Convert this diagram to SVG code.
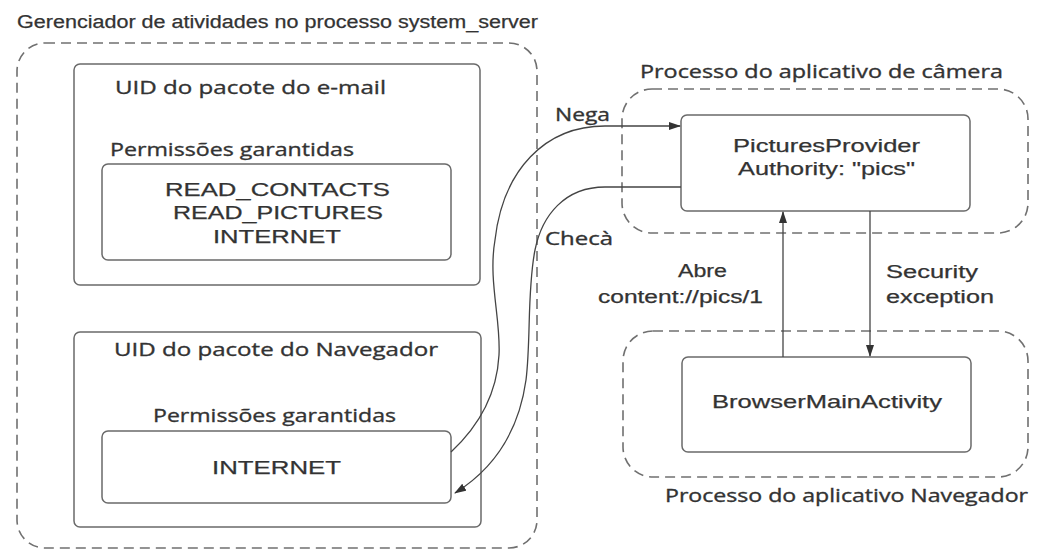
<svg xmlns="http://www.w3.org/2000/svg" width="1037" height="552" viewBox="0 0 1037 552">
  <defs>
    <marker id="arrow" viewBox="0 0 12 8" refX="11" refY="4" markerWidth="12" markerHeight="8" markerUnits="userSpaceOnUse" orient="auto">
      <path d="M0,0 L12,4 L0,8 Z" fill="#333"/>
    </marker>
    <style>
      .proc { fill: none; stroke: #707070; stroke-width: 1.6; stroke-dasharray: 10 6; }
      .box { fill: #fff; stroke: #6a6a6a; stroke-width: 1.5; }
      .wire { fill: none; stroke: #444; stroke-width: 1.3; }
      .sans { font-family: "Liberation Sans", Arial, sans-serif; fill: #333; stroke: #333; stroke-width: 0.25; }
      .hum { font-family: "Open Sans", "DejaVu Sans", sans-serif; fill: #333; stroke: #333; stroke-width: 0.35; }
    </style>
  </defs>

  <rect width="1037" height="552" fill="#fff"/>

  <!-- system_server process -->
  <g id="system-server">
    <text class="sans" x="17" y="28" font-size="18" textLength="521" lengthAdjust="spacingAndGlyphs">Gerenciador de atividades no processo system_server</text>
    <rect class="proc" x="17" y="43" width="520" height="505" rx="28"/>
  </g>

  <!-- e-mail package UID -->
  <g id="email-uid">
    <rect class="box" x="74" y="64" width="406" height="221" rx="6"/>
    <text class="hum" x="115" y="94" font-size="19" textLength="271" lengthAdjust="spacingAndGlyphs">UID do pacote do e-mail</text>
    <text class="hum" x="110" y="156" font-size="19" textLength="244" lengthAdjust="spacingAndGlyphs">Permissões garantidas</text>
  </g>
  <g id="email-perms">
    <rect class="box" x="102" y="164" width="349" height="96" rx="6"/>
    <text class="sans" x="165" y="196" font-size="19" textLength="225" lengthAdjust="spacingAndGlyphs">READ_CONTACTS</text>
    <text class="sans" x="173" y="219" font-size="19" textLength="210" lengthAdjust="spacingAndGlyphs">READ_PICTURES</text>
    <text class="sans" x="213" y="243" font-size="19" textLength="128" lengthAdjust="spacingAndGlyphs">INTERNET</text>
  </g>

  <!-- browser package UID -->
  <g id="browser-uid">
    <rect class="box" x="74" y="332" width="407" height="195" rx="6"/>
    <text class="hum" x="114" y="356" font-size="19" textLength="324" lengthAdjust="spacingAndGlyphs">UID do pacote do Navegador</text>
    <text class="hum" x="153" y="422" font-size="19" textLength="243" lengthAdjust="spacingAndGlyphs">Permissões garantidas</text>
  </g>
  <g id="browser-perms">
    <rect class="box" x="102" y="431" width="349" height="72" rx="6"/>
    <text class="sans" x="212" y="474" font-size="19" textLength="129" lengthAdjust="spacingAndGlyphs">INTERNET</text>
  </g>

  <!-- camera app process -->
  <g id="camera-process">
    <text class="hum" x="640" y="78" font-size="18" textLength="363" lengthAdjust="spacingAndGlyphs">Processo do aplicativo de câmera</text>
    <rect class="proc" x="622" y="89" width="406" height="144" rx="30"/>
  </g>
  <g id="pictures-provider">
    <rect class="box" x="681" y="115" width="289" height="96" rx="6"/>
    <text class="sans" x="733" y="152" font-size="19" textLength="187" lengthAdjust="spacingAndGlyphs">PicturesProvider</text>
    <text class="sans" x="738" y="175" font-size="19" textLength="177" lengthAdjust="spacingAndGlyphs">Authority: "pics"</text>
  </g>

  <!-- browser app process -->
  <g id="browser-process">
    <rect class="proc" x="623" y="331" width="405" height="146" rx="30"/>
    <text class="hum" x="665" y="502" font-size="18" textLength="363" lengthAdjust="spacingAndGlyphs">Processo do aplicativo Navegador</text>
  </g>
  <g id="browser-main-activity">
    <rect class="box" x="682" y="357" width="289" height="95" rx="6"/>
    <text class="sans" x="712" y="408" font-size="19" textLength="230" lengthAdjust="spacingAndGlyphs">BrowserMainActivity</text>
  </g>

  <!-- connectors -->
  <g id="connectors">
    <path class="wire" d="M451,452 C480,425 497,392 499,355 C501,320 488,280 495,240 C503,170 545,126 605,126 L680,126" marker-end="url(#arrow)"/>
    <path class="wire" d="M681,187 L605,187 C565,187 542,215 535,250 C527,290 531,340 526,380 C519,430 495,468 455,493" marker-end="url(#arrow)"/>
    <path class="wire" d="M783,357 L783,212" marker-end="url(#arrow)"/>
    <path class="wire" d="M870,211 L870,356" marker-end="url(#arrow)"/>
  </g>

  <!-- connector labels -->
  <g id="labels">
    <text class="hum" x="555" y="121" font-size="18" textLength="55" lengthAdjust="spacingAndGlyphs">Nega</text>
    <text class="hum" x="545" y="245" font-size="18" textLength="68" lengthAdjust="spacingAndGlyphs">Checà</text>
    <text class="sans" x="678" y="277" font-size="18" textLength="49" lengthAdjust="spacingAndGlyphs">Abre</text>
    <text class="sans" x="598" y="303" font-size="18" textLength="165" lengthAdjust="spacingAndGlyphs">content://pics/1</text>
    <text class="sans" x="886" y="278" font-size="18" textLength="92" lengthAdjust="spacingAndGlyphs">Security</text>
    <text class="sans" x="886" y="303" font-size="18" textLength="108" lengthAdjust="spacingAndGlyphs">exception</text>
  </g>
</svg>
